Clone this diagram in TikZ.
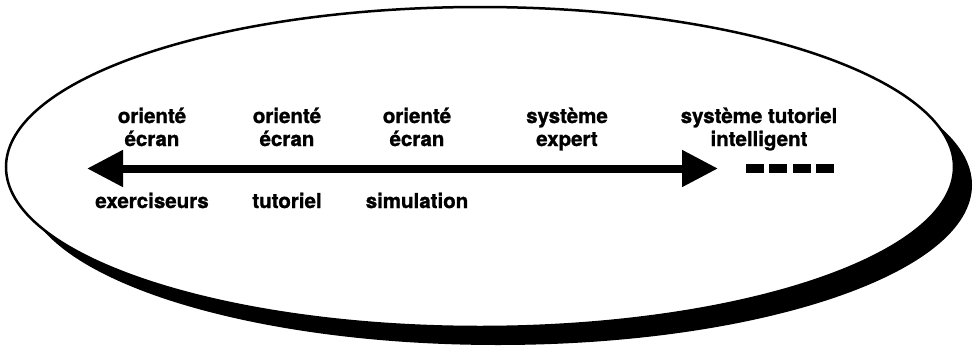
\documentclass[tikz,border=0pt]{standalone}
\usepackage{fontspec}
\setmainfont{TeX Gyre Heros}[BoldFeatures={FakeBold=1.2}]
\usetikzlibrary{arrows.meta}
\begin{document}
\begin{tikzpicture}[x=1pt,y=-1pt,
  lbl/.style={font=\fontsize{20.5}{23}\selectfont\bfseries, align=center, anchor=base, inner sep=0pt}]
\useasboundingbox (0,0) rectangle (975,348);
% shadow and ellipse
\fill[black] (498,185) ellipse [x radius=474, y radius=160];
\draw[line width=2.5pt, fill=white] (480,167) ellipse [x radius=474, y radius=160];
% labels above (base = baseline of the last line)
\node[lbl] (t1) at (152,146) {orienté\\écran};
\node[lbl] (t2) at (287,146) {orienté\\écran};
\node[lbl] (t3) at (417,146) {orienté\\écran};
\node[lbl] (t4) at (567,146) {système\\expert};
\node[lbl] (t5) at (759,146) {système tutoriel\\intelligent};
% labels below
\node[lbl] (b1) at (152,208) {exerciseurs};
\node[lbl] (b2) at (287,208) {tutoriel};
\node[lbl] (b3) at (417,208) {simulation};
% arrow
\coordinate (L) at (87,168.5);
\coordinate (R) at (718,168.5);
\draw[line width=8pt, {Triangle[length=36pt,width=35pt]}-{Triangle[length=36pt,width=35pt]}] (L) -- (R);
% dashes
\coordinate (D1) at (746,168.5);
\coordinate (D2) at (834,168.5);
\draw[line width=9pt, dash pattern=on 18pt off 5.33pt] (D1) -- (D2);
\end{tikzpicture}
\end{document}
